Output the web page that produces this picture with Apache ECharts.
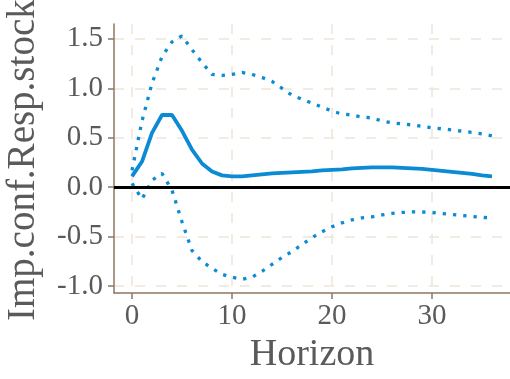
<!DOCTYPE html>
<html>
<head>
<meta charset="utf-8">
<script src="https://cdn.jsdelivr.net/npm/echarts@6/dist/echarts.min.js"></script>
<style>html,body{margin:0;padding:0;background:#fff;}#c{width:510px;height:379px;}</style>
</head>
<body>
<div id="c"></div>
<script>
const horizon = [0,1,2,3,4,5,6,7,8,9,10,11,12,13,14,15,16,17,18,19,20,21,22,23,24,25,26,27,28,29,30,31,32,33,34,35,36];
const response = [0.11,0.26,0.55,0.73,0.73,0.57,0.38,0.24,0.16,0.12,0.11,0.11,0.12,0.13,0.14,0.145,0.15,0.155,0.16,0.17,0.175,0.18,0.19,0.195,0.20,0.20,0.20,0.195,0.19,0.185,0.175,0.165,0.155,0.145,0.135,0.12,0.11];
const upper = [0.17,0.67,1.05,1.32,1.47,1.53,1.39,1.26,1.14,1.13,1.14,1.16,1.14,1.11,1.07,1.00,0.93,0.89,0.85,0.81,0.77,0.74,0.73,0.71,0.70,0.67,0.65,0.64,0.63,0.615,0.60,0.59,0.58,0.565,0.555,0.54,0.52];
const lower = [0.04,-0.12,0.07,0.14,-0.03,-0.35,-0.64,-0.75,-0.82,-0.88,-0.91,-0.93,-0.91,-0.85,-0.78,-0.71,-0.65,-0.58,-0.51,-0.45,-0.40,-0.36,-0.33,-0.31,-0.30,-0.28,-0.265,-0.255,-0.25,-0.25,-0.255,-0.265,-0.275,-0.285,-0.295,-0.305,-0.31];
const xTicks = [0,10,20,30];
const yTicks = [-1.0,-0.5,0.0,0.5,1.0,1.5];
const xTitle = 'Horizon';
const yTitle = 'Imp.conf.Resp.stock';

const FONT = '"Liberation Serif", "DejaVu Serif", serif';
const TXT = '#5a5a5a';
const AXIS = '#8c7761';
const GRID = '#efe5d9';
const BLUE = '#0a8bd3';

const pairs = (ys) => horizon.map((h, i) => [h, ys[i]]);

const chart = echarts.init(document.getElementById('c'), null, {renderer: 'canvas'});
chart.setOption({
  animation: false,
  backgroundColor: '#ffffff',
  grid: {left: 114, top: 24, right: 0, bottom: 84, containLabel: false},
  xAxis: {
    type: 'value', min: -1.8, max: 37.8,
    name: xTitle, nameLocation: 'middle', nameGap: 42,
    nameTextStyle: {fontFamily: FONT, fontSize: 38, color: TXT},
    axisLine: {show: true, onZero: false, lineStyle: {color: AXIS, width: 1.5}},
    axisTick: {show: true, length: 6, customValues: xTicks, lineStyle: {color: AXIS, width: 1.5}},
    axisLabel: {customValues: xTicks, margin: 9, fontFamily: FONT, fontSize: 29, color: TXT},
    splitLine: {show: true, customValues: xTicks, lineStyle: {color: GRID, width: 1.5, type: [10, 11]}}
  },
  yAxis: {
    type: 'value', min: -1.07, max: 1.65,
    axisLine: {show: true, onZero: false, lineStyle: {color: AXIS, width: 1.5}},
    axisTick: {show: true, length: 6, customValues: yTicks, lineStyle: {color: AXIS, width: 1.5}},
    axisLabel: {customValues: yTicks, margin: 11, fontFamily: FONT, fontSize: 29, color: TXT,
      formatter: v => v.toFixed(1)},
    splitLine: {show: true, customValues: yTicks, lineStyle: {color: GRID, width: 1.5, type: [10, 11]}}
  },
  graphic: [{
    type: 'text', x: 24, y: 321, rotation: Math.PI / 2,
    style: {text: yTitle, fontFamily: FONT, fontSize: 39, fill: TXT, align: 'left', verticalAlign: 'middle'}
  }],
  series: [
    {type: 'line', data: pairs(upper), symbol: 'none', z: 3,
     lineStyle: {color: BLUE, width: 3.3, type: [3.3, 7], cap: 'butt'}},
    {type: 'line', data: pairs(lower), symbol: 'none', z: 3,
     lineStyle: {color: BLUE, width: 3.3, type: [3.3, 7], cap: 'butt'}},
    {type: 'line', data: pairs(response), symbol: 'none', z: 4,
     lineStyle: {color: BLUE, width: 3.8},
     markLine: {silent: true, symbol: 'none', label: {show: false}, z: 5,
       lineStyle: {color: '#000000', width: 3, type: 'solid'},
       data: [{yAxis: 0}]}}
  ]
});
</script>
</body>
</html>
